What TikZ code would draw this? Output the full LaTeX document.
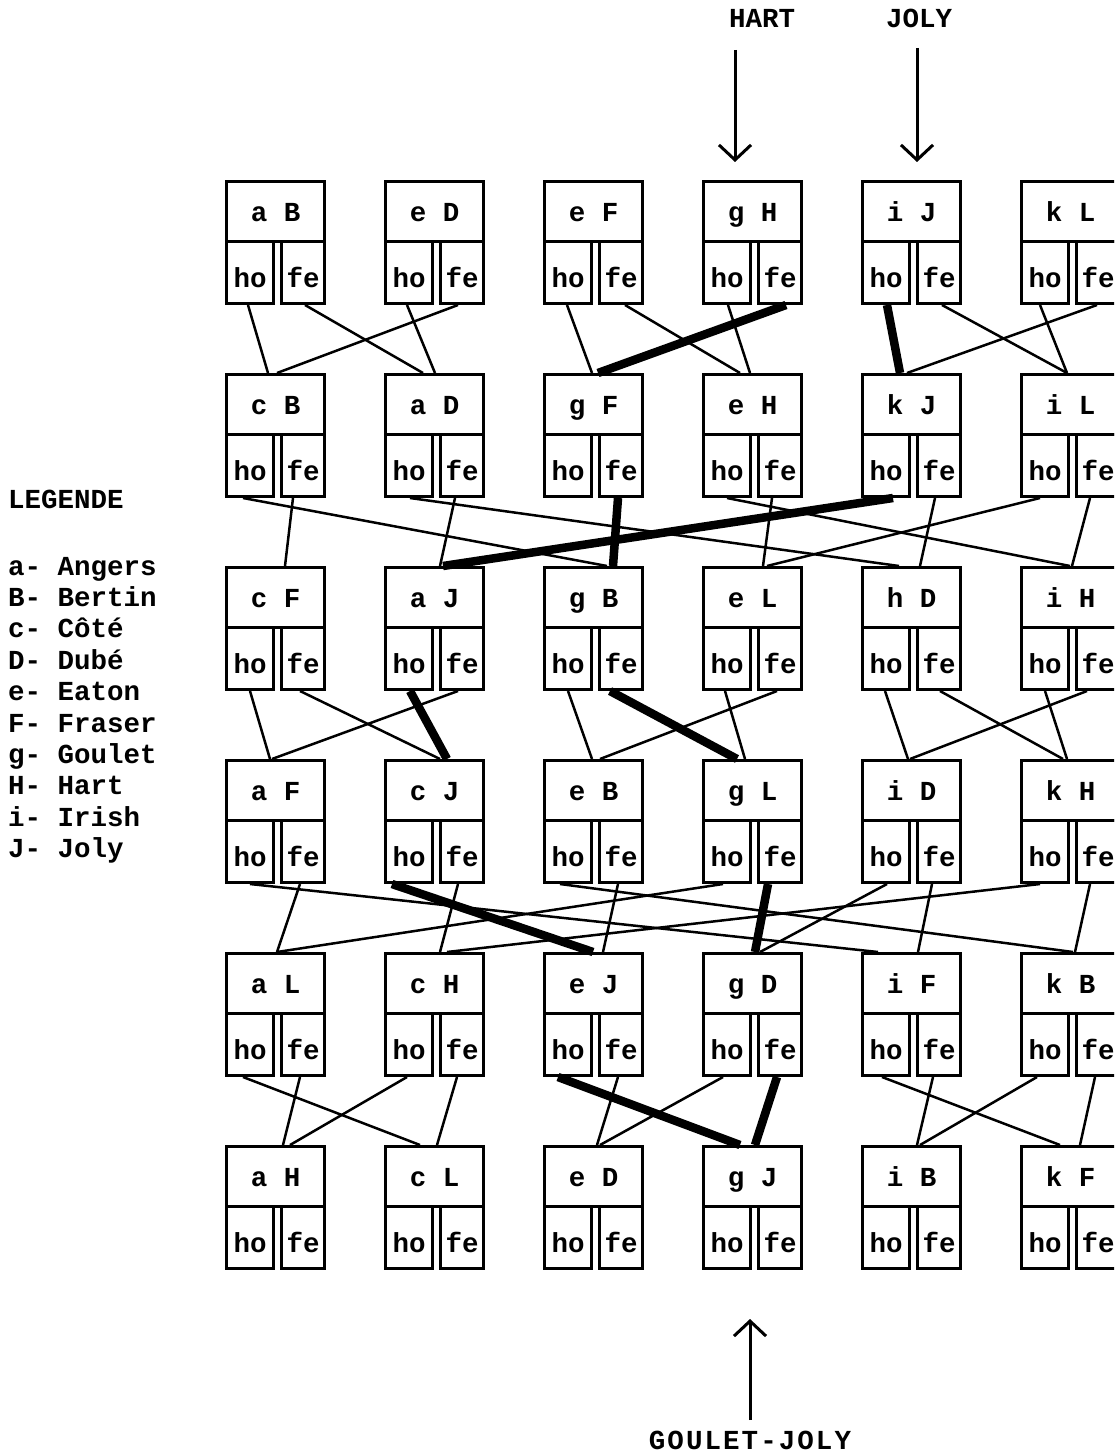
\documentclass[tikz,border=0pt]{standalone}
\usepackage{fontspec}
\newfontfamily\tw{Liberation Mono}
\newcommand\twf{\tw\bfseries\fontsize{27.5bp}{32bp}\selectfont}
\usetikzlibrary{calc,arrows.meta}
\newcommand\cn[5][lnk]{\draw[#1] ($(#2.south west)+(#3,0)$) -- ($(#4.north west)+(#5,0)$);}
\begin{document}
\begin{tikzpicture}[x=1bp,y=-1bp,
  cellbox/.style={draw,line width=3bp,inner sep=0pt,anchor=north west,font=\twf},
  topcell/.style={cellbox,minimum width=98bp,minimum height=60bp,text height=20bp,text depth=0bp},
  hocell/.style={cellbox,minimum width=47bp,minimum height=62bp,text height=30bp,text depth=0bp},
  fecell/.style={cellbox,minimum width=43bp,minimum height=62bp,text height=30bp,text depth=0bp},
  lnk/.style={line width=2.5bp},
  hvy/.style={line width=8.5bp},
  arr/.style={line width=3bp,-{Straight Barb[length=15bp,width=32bp]}},
  lbl/.style={font=\twf,inner sep=0pt,anchor=base}]
\useasboundingbox (0,0) rectangle (1114,1456);
\clip (0,0) rectangle (1114,1456);
% boxes
\foreach \ri/\labs in {1/{a B,e D,e F,g H,i J,k L},2/{c B,a D,g F,e H,k J,i L},3/{c F,a J,g B,e L,h D,i H},4/{a F,c J,e B,g L,i D,k H},5/{a L,c H,e J,g D,i F,k B},6/{a H,c L,e D,g J,i B,k F}}{
  \foreach \lab [count=\ci] in \labs {
    \pgfmathsetmacro\L{225+159*(\ci-1)}
    \pgfmathsetmacro\T{180+193*(\ri-1)}
    \node[topcell] (r\ri c\ci) at (\L,\T) {\lab};
    \node[hocell] (r\ri c\ci ho) at (\L,\T+60) {ho};
    \node[fecell] (r\ri c\ci fe) at (\L+55,\T+60) {fe};
  }
}
% row 1 -> 2
\cn{r1c1ho}{23}{r2c1}{43}
\cn{r1c1fe}{25}{r2c2}{39}
\cn{r1c2ho}{23}{r2c2}{51}
\cn{r1c2fe}{19}{r2c1}{52}
\cn{r1c3ho}{24}{r2c3}{49}
\cn{r1c3fe}{27}{r2c4}{38}
\cn{r1c4ho}{26}{r2c4}{48}
\cn[hvy]{r1c4fe}{29}{r2c3}{55}
\cn[hvy]{r1c5ho}{26}{r2c5}{39}
\cn{r1c5fe}{26}{r2c6}{47}
\cn{r1c6ho}{20}{r2c6}{47}
\cn{r1c6fe}{22}{r2c5}{46}
% row 2 -> 3
\cn{r2c1ho}{18}{r3c3}{64}
\cn{r2c1fe}{13}{r3c1}{60}
\cn{r2c2ho}{26}{r3c5}{38}
\cn{r2c2fe}{16}{r3c2}{56}
\cn[hvy]{r2c3fe}{20}{r3c3}{70}
\cn{r2c4ho}{25}{r3c6}{50}
\cn{r2c4fe}{15}{r3c4}{61}
\cn[hvy]{r2c5ho}{32}{r3c2}{59}
\cn{r2c5fe}{19}{r3c5}{59}
\cn{r2c6ho}{20}{r3c4}{65}
\cn{r2c6fe}{15}{r3c6}{52}
% row 3 -> 4
\cn{r3c1ho}{25}{r4c1}{45}
\cn{r3c1fe}{20}{r4c2}{56}
\cn[hvy]{r3c2ho}{26}{r4c2}{63}
\cn{r3c2fe}{19}{r4c1}{47}
\cn{r3c3ho}{25}{r4c3}{49}
\cn[hvy]{r3c3fe}{12}{r4c4}{35}
\cn{r3c4ho}{23}{r4c4}{43}
\cn{r3c4fe}{20}{r4c3}{57}
\cn{r3c5ho}{24}{r4c5}{47}
\cn{r3c5fe}{24}{r4c6}{43}
\cn{r3c6ho}{25}{r4c6}{47}
\cn{r3c6fe}{12}{r4c5}{49}
% row 4 -> 5
\cn{r4c1ho}{25}{r5c5}{17}
\cn{r4c1fe}{20}{r5c1}{52}
\cn[hvy]{r4c2ho}{8}{r5c3}{50}
\cn{r4c2fe}{19}{r5c2}{56}
\cn{r4c3ho}{17}{r5c6}{53}
\cn{r4c3fe}{20}{r5c3}{60}
\cn{r4c4ho}{21}{r5c1}{52}
\cn[hvy]{r4c4fe}{11}{r5c4}{53}
\cn{r4c5ho}{26}{r5c4}{58}
\cn{r4c5fe}{16}{r5c5}{57}
\cn{r4c6ho}{20}{r5c2}{63}
\cn{r4c6fe}{15}{r5c6}{55}
% row 5 -> 6
\cn{r5c1ho}{18}{r6c2}{36}
\cn{r5c1fe}{20}{r6c1}{58}
\cn{r5c2ho}{23}{r6c1}{65}
\cn{r5c2fe}{18}{r6c2}{53}
\cn[hvy]{r5c3ho}{15}{r6c4}{38}
\cn{r5c3fe}{20}{r6c3}{54}
\cn{r5c4ho}{21}{r6c3}{57}
\cn[hvy]{r5c4fe}{20}{r6c4}{53}
\cn{r5c5ho}{21}{r6c6}{40}
\cn{r5c5fe}{17}{r6c5}{56}
\cn{r5c6ho}{17}{r6c5}{59}
\cn{r5c6fe}{20}{r6c6}{60}
% top and bottom labels and arrows
\node[lbl] (hart) at (762,28) {HART};
\node[lbl] (joly) at (919,28) {JOLY};
\node[lbl] (goulet) at (750,1449) {\addfontfeature{LetterSpace=7.5}GOULET-JOLY};
\coordinate (hs) at (735,50);
\coordinate (js) at (917,48);
\coordinate (gs) at (750,1420);
\draw[arr,shorten >=18bp] (hs) -- ($(r1c4.north west)+(33,0)$);
\draw[arr,shorten >=18bp] (js) -- ($(r1c5.north west)+(56,0)$);
\draw[arr,shorten >=49bp] (gs) -- ($(r6c4ho.south west)+(48,0)$);
% legend
\node[lbl,anchor=base west] (leg0) at (8,508) {LEGENDE};
\foreach \t [count=\k] in {a- Angers,B- Bertin,c- Côté,D- Dubé,e- Eaton,F- Fraser,g- Goulet,H- Hart,i- Irish,J- Joly}{
  \node[lbl,anchor=base west] (leg\k) at (8,575+31.4*\k-31.4) {\t};
}
\end{tikzpicture}
\end{document}
